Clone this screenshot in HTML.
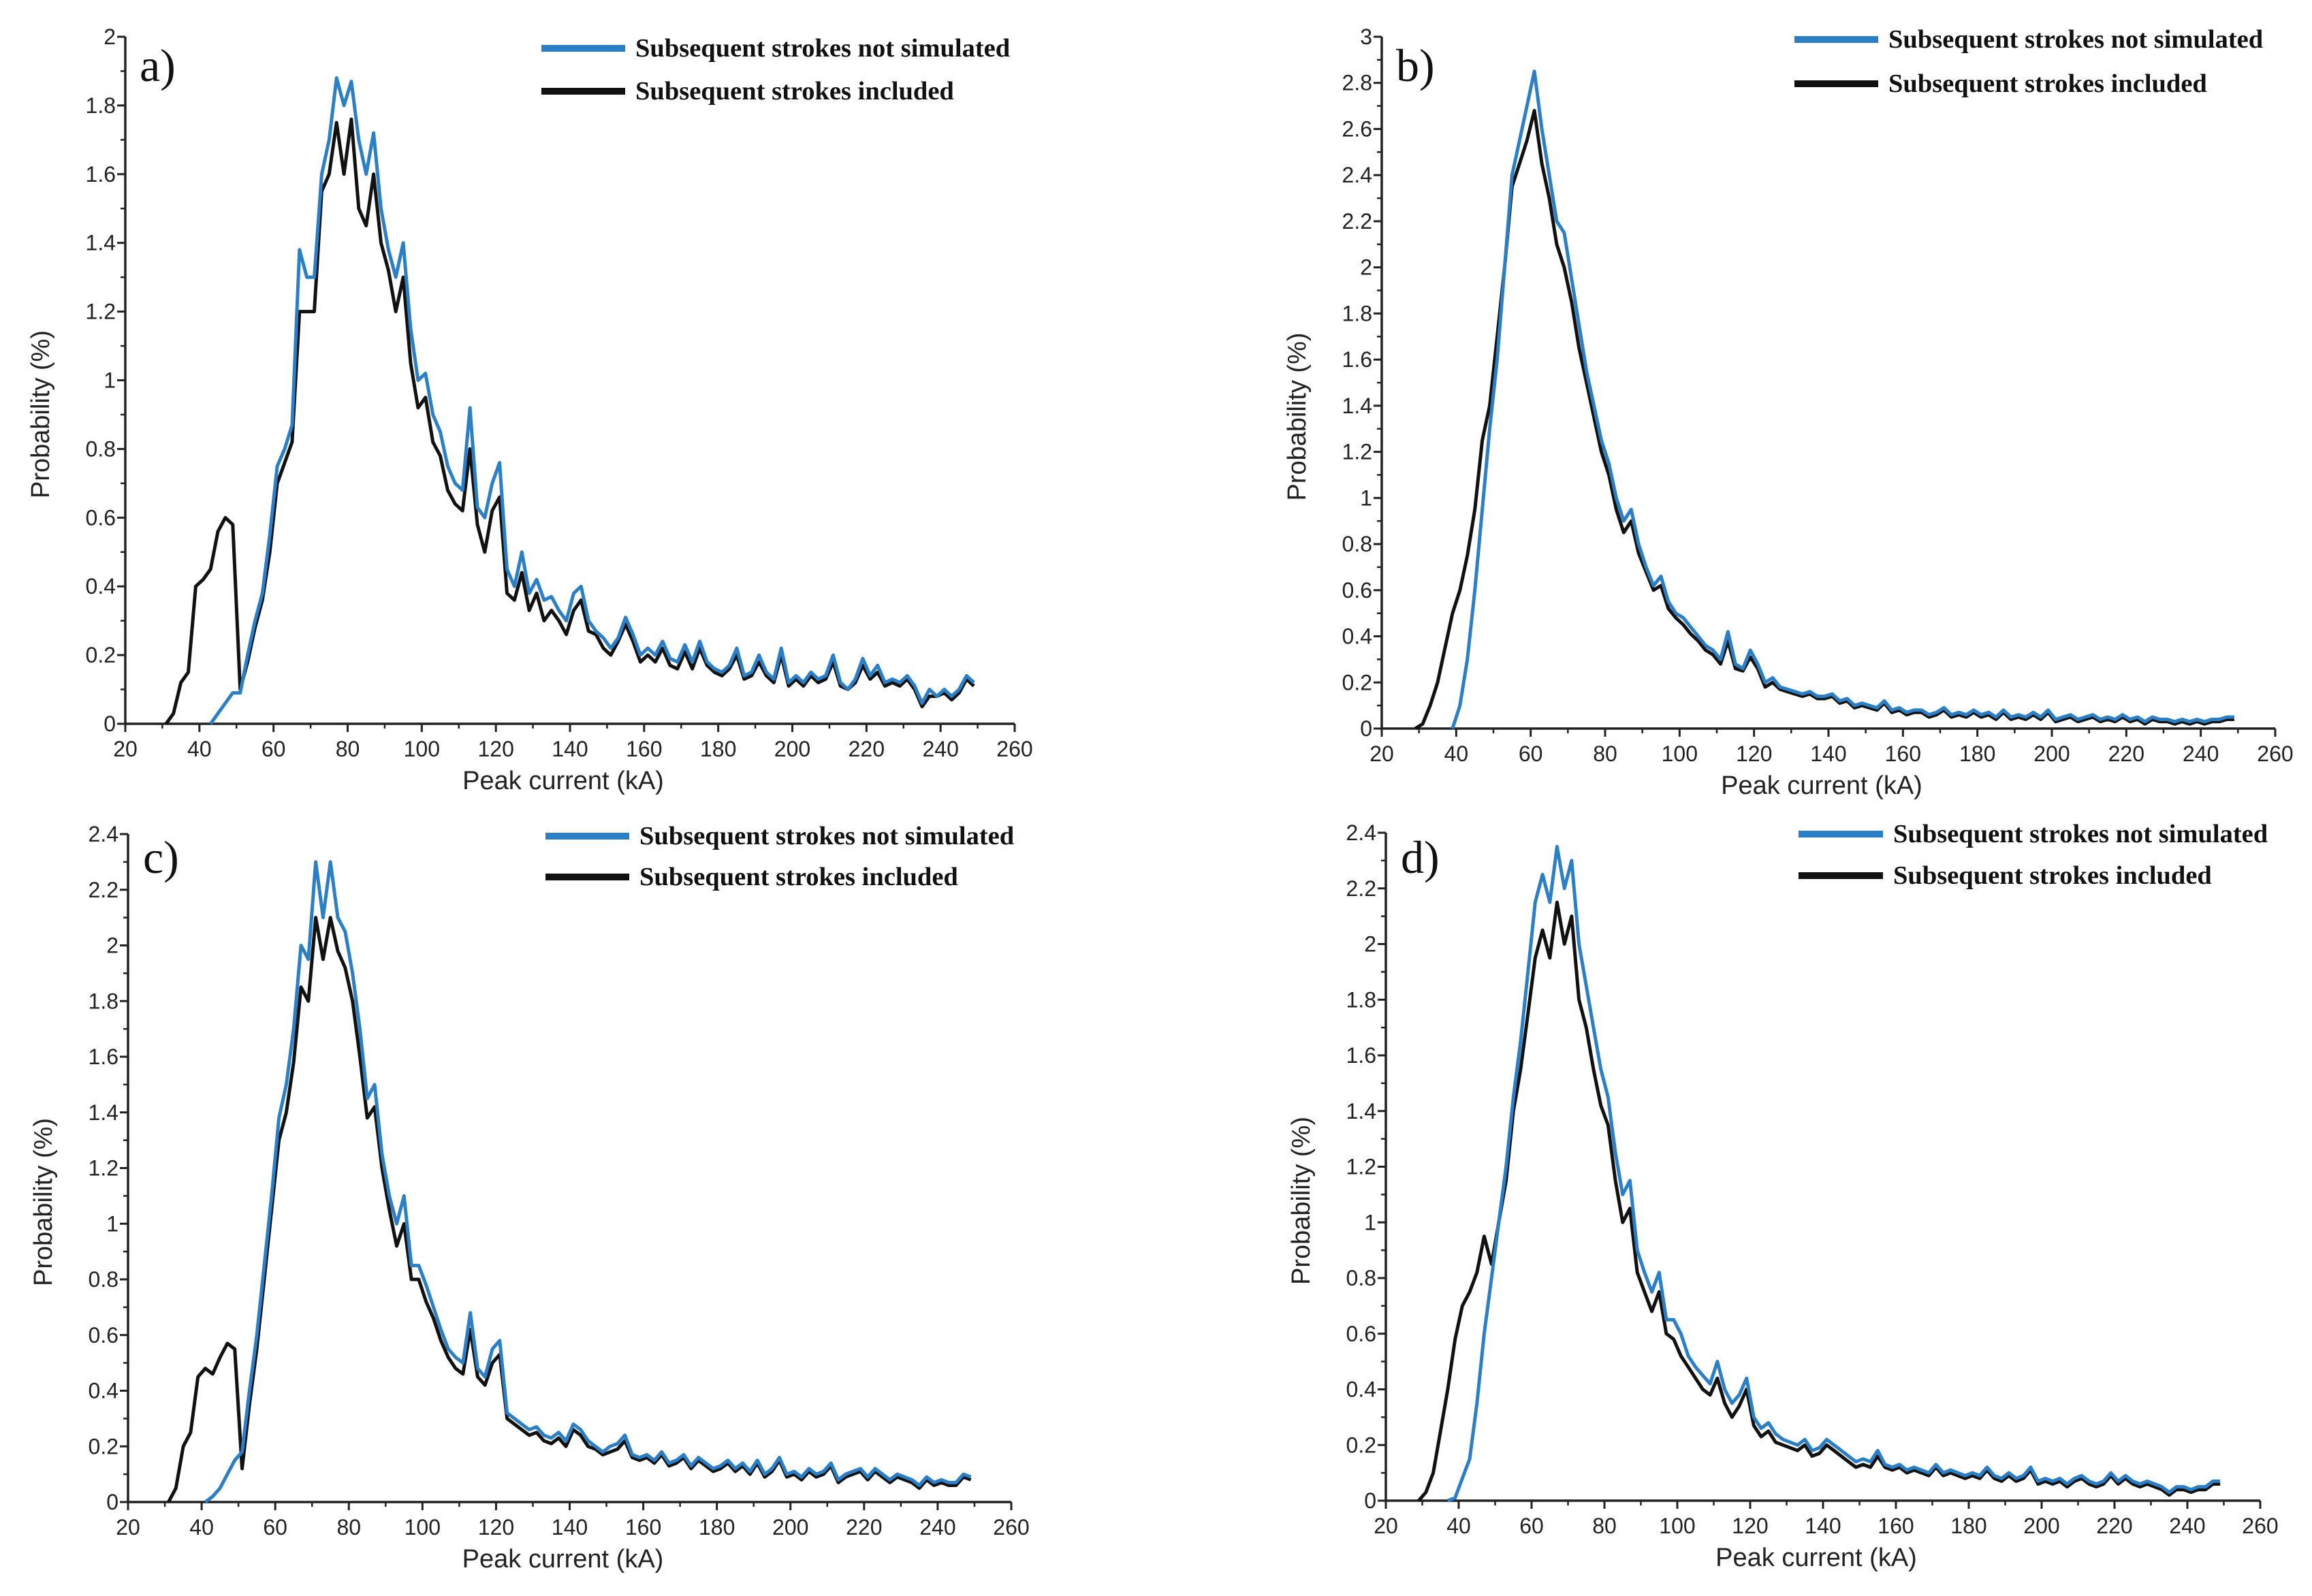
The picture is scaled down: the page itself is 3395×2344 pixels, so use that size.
<!DOCTYPE html>
<html><head><meta charset="utf-8">
<style>
html,body{margin:0;padding:0;background:#fff;}
svg{display:block;}
.tick{font-family:"Liberation Sans",sans-serif;font-size:32px;fill:#222;}
.title{font-family:"Liberation Sans",sans-serif;font-size:38px;fill:#222;}
.leg{font-family:"Liberation Serif",serif;font-size:38.5px;font-weight:bold;fill:#111;}
.plab{font-family:"Liberation Serif",serif;font-size:68px;fill:#111;}
</style></head>
<body>
<svg id="fig" width="3395" height="2344" viewBox="0 0 3395 2344" xmlns="http://www.w3.org/2000/svg"></svg>
<script>
const xTicks = [20,40,60,80,100,120,140,160,180,200,220,240,260];
const legendLabels = ["Subsequent strokes not simulated","Subsequent strokes included"];
const panelLabels = ["a)","b)","c)","d)"];
const yMaxes = [2,3,2.4,2.4];
const blackStarts = [31,29,31,29];
const blueStarts = [43,39,41,37];
const aBlue = [0,0.03,0.06,0.09,0.09,0.2,0.3,0.38,0.55,0.75,0.8,0.87,1.38,1.3,1.3,1.6,1.7,1.88,1.8,1.87,1.7,1.6,1.72,1.5,1.38,1.3,1.4,1.15,1.0,1.02,0.9,0.85,0.75,0.7,0.68,0.92,0.63,0.6,0.7,0.76,0.45,0.4,0.5,0.38,0.42,0.36,0.37,0.33,0.3,0.38,0.4,0.3,0.27,0.25,0.22,0.25,0.31,0.26,0.2,0.22,0.2,0.24,0.19,0.18,0.23,0.18,0.24,0.18,0.16,0.15,0.17,0.22,0.14,0.15,0.2,0.15,0.13,0.22,0.12,0.14,0.12,0.15,0.13,0.14,0.2,0.12,0.1,0.13,0.19,0.14,0.17,0.12,0.13,0.12,0.14,0.11,0.06,0.1,0.08,0.1,0.08,0.1,0.14,0.12];
const aBlack = [0,0.03,0.12,0.15,0.4,0.42,0.45,0.56,0.6,0.58,0.1,0.18,0.28,0.36,0.5,0.7,0.76,0.82,1.2,1.2,1.2,1.55,1.6,1.75,1.6,1.76,1.5,1.45,1.6,1.4,1.32,1.2,1.3,1.05,0.92,0.95,0.82,0.78,0.68,0.64,0.62,0.8,0.58,0.5,0.62,0.66,0.38,0.36,0.44,0.33,0.38,0.3,0.33,0.3,0.26,0.33,0.36,0.27,0.26,0.22,0.2,0.24,0.29,0.24,0.18,0.2,0.18,0.22,0.17,0.16,0.21,0.16,0.22,0.17,0.15,0.14,0.16,0.2,0.13,0.14,0.18,0.14,0.12,0.2,0.11,0.13,0.11,0.14,0.12,0.13,0.18,0.11,0.1,0.12,0.17,0.13,0.15,0.11,0.12,0.11,0.13,0.1,0.05,0.08,0.08,0.09,0.07,0.09,0.13,0.11];
const bBlue = [0,0.1,0.3,0.6,0.95,1.3,1.6,2.0,2.4,2.55,2.7,2.85,2.6,2.4,2.2,2.15,1.95,1.75,1.55,1.4,1.25,1.15,1.0,0.9,0.95,0.8,0.7,0.62,0.66,0.55,0.5,0.48,0.44,0.4,0.36,0.34,0.3,0.42,0.28,0.26,0.34,0.28,0.2,0.22,0.18,0.17,0.16,0.15,0.16,0.14,0.14,0.15,0.12,0.13,0.1,0.11,0.1,0.09,0.12,0.08,0.09,0.07,0.08,0.08,0.06,0.07,0.09,0.06,0.07,0.06,0.08,0.06,0.07,0.05,0.08,0.05,0.06,0.05,0.07,0.05,0.08,0.04,0.05,0.06,0.04,0.05,0.06,0.04,0.05,0.04,0.06,0.04,0.05,0.03,0.05,0.04,0.04,0.03,0.04,0.03,0.04,0.03,0.04,0.04,0.05,0.05];
const bBlack = [0,0.02,0.1,0.2,0.35,0.5,0.6,0.75,0.95,1.25,1.4,1.7,2.0,2.35,2.45,2.55,2.68,2.45,2.3,2.1,2.0,1.85,1.65,1.5,1.35,1.2,1.1,0.95,0.85,0.9,0.76,0.68,0.6,0.62,0.52,0.48,0.45,0.41,0.38,0.34,0.32,0.28,0.38,0.26,0.25,0.31,0.26,0.18,0.2,0.17,0.16,0.15,0.14,0.15,0.13,0.13,0.14,0.11,0.12,0.09,0.1,0.09,0.08,0.11,0.07,0.08,0.06,0.07,0.07,0.05,0.06,0.08,0.05,0.06,0.05,0.07,0.05,0.06,0.04,0.07,0.04,0.05,0.04,0.06,0.04,0.07,0.03,0.04,0.05,0.03,0.04,0.05,0.03,0.04,0.03,0.05,0.03,0.04,0.02,0.04,0.03,0.03,0.02,0.03,0.02,0.03,0.02,0.03,0.03,0.04,0.04];
const cBlue = [0,0.02,0.05,0.1,0.15,0.18,0.4,0.6,0.85,1.1,1.38,1.5,1.7,2.0,1.95,2.3,2.1,2.3,2.1,2.05,1.9,1.7,1.45,1.5,1.25,1.1,1.0,1.1,0.85,0.85,0.78,0.7,0.62,0.55,0.52,0.5,0.68,0.48,0.45,0.55,0.58,0.32,0.3,0.28,0.26,0.27,0.24,0.23,0.25,0.22,0.28,0.26,0.22,0.2,0.18,0.2,0.21,0.24,0.17,0.16,0.17,0.15,0.18,0.14,0.15,0.17,0.13,0.16,0.14,0.12,0.13,0.15,0.12,0.14,0.11,0.15,0.1,0.12,0.16,0.1,0.11,0.09,0.12,0.1,0.11,0.14,0.08,0.1,0.11,0.12,0.09,0.12,0.1,0.08,0.1,0.09,0.08,0.06,0.09,0.07,0.08,0.07,0.07,0.1,0.09];
const cBlack = [0,0.05,0.2,0.25,0.45,0.48,0.46,0.52,0.57,0.55,0.12,0.35,0.55,0.8,1.05,1.3,1.4,1.58,1.85,1.8,2.1,1.95,2.1,1.98,1.92,1.8,1.6,1.38,1.42,1.2,1.05,0.92,1.0,0.8,0.8,0.72,0.66,0.58,0.52,0.48,0.46,0.62,0.45,0.42,0.5,0.53,0.3,0.28,0.26,0.24,0.25,0.22,0.21,0.23,0.2,0.26,0.24,0.2,0.19,0.17,0.18,0.19,0.22,0.16,0.15,0.16,0.14,0.17,0.13,0.14,0.16,0.12,0.15,0.13,0.11,0.12,0.14,0.11,0.13,0.1,0.14,0.09,0.11,0.15,0.09,0.1,0.08,0.11,0.09,0.1,0.13,0.07,0.09,0.1,0.11,0.08,0.11,0.09,0.07,0.09,0.08,0.07,0.05,0.08,0.06,0.07,0.06,0.06,0.09,0.08];
const dBlue = [0,0.01,0.08,0.15,0.35,0.6,0.8,1.0,1.2,1.45,1.65,1.9,2.15,2.25,2.15,2.35,2.2,2.3,2.0,1.85,1.7,1.55,1.45,1.25,1.1,1.15,0.9,0.82,0.75,0.82,0.65,0.65,0.6,0.52,0.48,0.45,0.42,0.5,0.4,0.35,0.38,0.44,0.3,0.26,0.28,0.24,0.22,0.21,0.2,0.22,0.18,0.19,0.22,0.2,0.18,0.16,0.14,0.15,0.14,0.18,0.13,0.12,0.13,0.11,0.12,0.11,0.1,0.13,0.1,0.11,0.1,0.09,0.1,0.09,0.12,0.09,0.08,0.1,0.08,0.09,0.12,0.07,0.08,0.07,0.08,0.06,0.08,0.09,0.07,0.06,0.07,0.1,0.07,0.09,0.07,0.06,0.07,0.06,0.05,0.03,0.05,0.05,0.04,0.05,0.05,0.07,0.07];
const dBlack = [0,0.03,0.1,0.25,0.4,0.58,0.7,0.75,0.82,0.95,0.85,1.0,1.15,1.4,1.55,1.75,1.95,2.05,1.95,2.15,2.0,2.1,1.8,1.7,1.55,1.42,1.35,1.15,1.0,1.05,0.82,0.75,0.68,0.75,0.6,0.58,0.52,0.48,0.44,0.4,0.38,0.44,0.35,0.3,0.34,0.4,0.27,0.23,0.25,0.21,0.2,0.19,0.18,0.2,0.16,0.17,0.2,0.18,0.16,0.14,0.12,0.13,0.12,0.16,0.12,0.11,0.12,0.1,0.11,0.1,0.09,0.12,0.09,0.1,0.09,0.08,0.09,0.08,0.11,0.08,0.07,0.09,0.07,0.08,0.11,0.06,0.07,0.06,0.07,0.05,0.07,0.08,0.06,0.05,0.06,0.09,0.06,0.08,0.06,0.05,0.06,0.05,0.04,0.02,0.04,0.04,0.03,0.04,0.04,0.06,0.06];
const blueSeries = [aBlue,bBlue,cBlue,dBlue];
const blackSeries = [aBlack,bBlack,cBlack,dBlack];
const step = 2;

const layout = [
 {xl:184,xr:1490,y0:1063,yt:54,leg:[795,918,71,134],lab:[205,97]},
 {xl:2029,xr:3341,y0:1070,yt:54,leg:[2635,2758,58,123],lab:[2050,97]},
 {xl:188,xr:1485,y0:2206,yt:1225,leg:[801,924,1228,1288],lab:[210,1260]},
 {xl:2035,xr:3319,y0:2204,yt:1223,leg:[2641,2765,1225,1286],lab:[2057,1260]}
];
const NS="http://www.w3.org/2000/svg";
const svg=document.getElementById('fig');
function mk(t,a,p){const e=document.createElementNS(NS,t);for(const k in a)e.setAttribute(k,a[k]);(p||svg).appendChild(e);return e;}

layout.forEach((L,i)=>{
  const g=mk('g',{});
  
  
  const ymax=yMaxes[i];
  const sx=v=>L.xl+(v-20)/(240)*(L.xr-L.xl);
  const sy=v=>L.y0-v/ymax*(L.y0-L.yt);
  const ax=mk('path',{d:`M${L.xl},${L.yt} V${L.y0} H${L.xr}`,stroke:'#222','stroke-width':3.5,fill:'none'},g);
  
  
  xTicks.forEach((t,j)=>{
    const x=sx(t);
    mk('line',{x1:x,x2:x,y1:L.y0,y2:L.y0+12,stroke:'#222','stroke-width':3},g);
    if(j<xTicks.length-1){const xm=sx(t+10);mk('line',{x1:xm,x2:xm,y1:L.y0,y2:L.y0+7,stroke:'#222','stroke-width':2.5},g);}
    const tx=mk('text',{x:x,y:L.y0+48,'text-anchor':'middle',class:'tick'},g);tx.textContent=t;
    
    
  });
  const n=Math.round(ymax/0.1);
  for(let k=0;k<=n;k++){
    const v=k*0.1,y=sy(v);
    const major=k%2===0;
    mk('line',{x1:L.xl-(major?12:7),x2:L.xl,y1:y,y2:y,stroke:'#222','stroke-width':major?3:2.5},g);
    if(major){const tx=mk('text',{x:L.xl-14,y:y+11,'text-anchor':'end',class:'tick'},g);tx.textContent=String(Math.round(v*10)/10);
      
      }
  }
  const xt=mk('text',{x:(L.xl+L.xr)/2-10,y:L.y0+96,'text-anchor':'middle',class:'title'},g);xt.textContent='Peak current (kA)';
  
  
  const ytx=L.xl-112,ytyc=(L.y0+L.yt)/2+50;
  const yt=mk('text',{x:ytx,y:ytyc,'text-anchor':'middle',class:'title',transform:`rotate(-90 ${ytx} ${ytyc})`},g);yt.textContent='Probability (%)';
  
  
  function line(arr,start,color,name){
    const d=arr.map((v,k)=>(k?'L':'M')+sx(start+k*step).toFixed(1)+','+sy(v).toFixed(1)).join(' ');
    const p=mk('path',{d:d,stroke:color,'stroke-width':5,fill:'none','stroke-linejoin':'round'},g);
    
    
  }
  line(blackSeries[i],blackStarts[i],'#111','series-included');
  line(blueSeries[i],blueStarts[i],'#2b7fc6','series-not-simulated');
  const [lx1,lx2,ly1,ly2]=L.leg;
  [[ly1,'#2b7fc6',0],[ly2,'#111',1]].forEach(([y,c,j])=>{
    const lg=mk('g',{},g);
    
    
    mk('line',{x1:lx1,x2:lx2,y1:y,y2:y,stroke:c,'stroke-width':10},lg);
    const t=mk('text',{x:lx2+15,y:y+12,class:'leg'},lg);t.textContent=legendLabels[j];
  });
  const pl=mk('text',{x:L.lab[0],y:L.lab[1]+22,class:'plab'},g);pl.textContent=panelLabels[i];
  
  
});
</script>
</body></html>
